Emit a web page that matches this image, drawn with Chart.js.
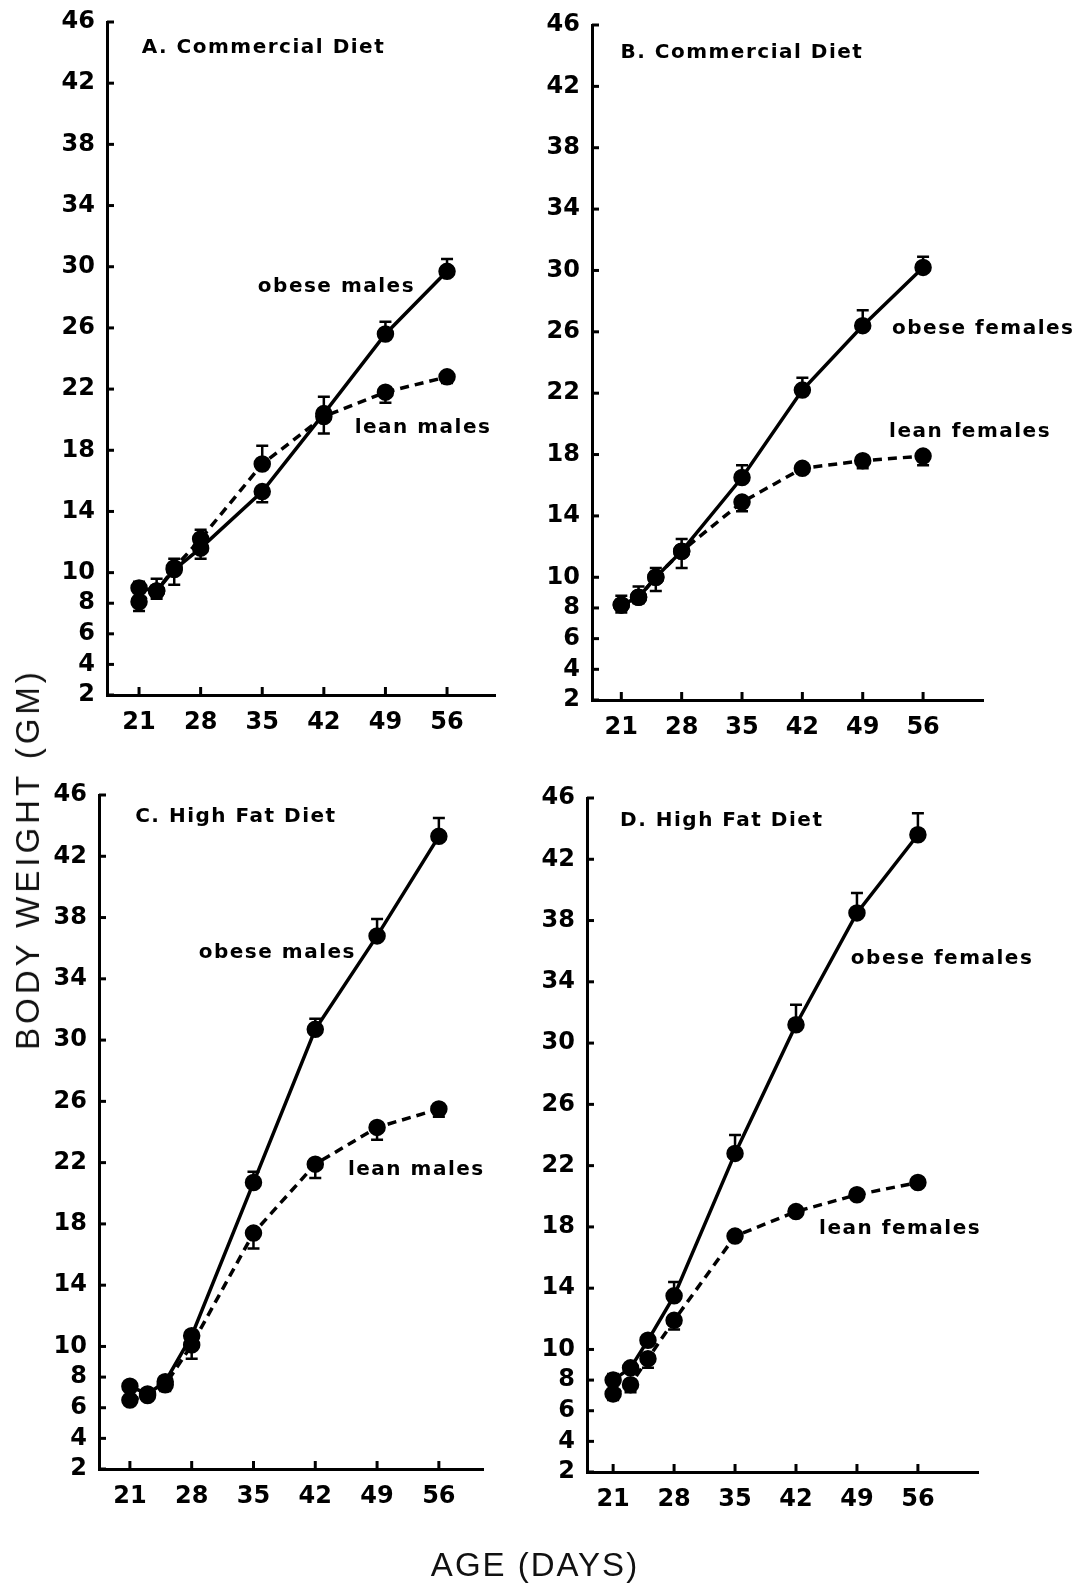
<!DOCTYPE html>
<html>
<head>
<meta charset="utf-8">
<script src="https://cdn.jsdelivr.net/npm/chart.js@4.4.0/dist/chart.umd.min.js"></script>
<style>
  body { margin: 0; background: #fff; width: 1072px; height: 1588px; position: relative; overflow: hidden; }
  canvas { position: absolute; }
  .lab { position: absolute; font-family: "Liberation Sans", Arial, sans-serif; color: #111; white-space: nowrap; }
  #ylab { left: 28px; top: 859px; transform: translate(-50%, -50%) rotate(-90deg); font-size: 33px; letter-spacing: 4px; }
  #xlab { left: 535px; top: 1565px; transform: translate(-50%, -50%); font-size: 33px; letter-spacing: 2px; }
</style>
</head>
<body>
<canvas id="cA" width="536" height="760" style="left:0;top:0"></canvas>
<canvas id="cB" width="536" height="760" style="left:536px;top:0"></canvas>
<canvas id="cC" width="536" height="790" style="left:0;top:770px"></canvas>
<canvas id="cD" width="536" height="790" style="left:536px;top:770px"></canvas>
<div class="lab" id="ylab">BODY WEIGHT (GM)</div>
<div class="lab" id="xlab">AGE (DAYS)</div>

<script>
// age in days
const days = [21, 23, 25, 28, 35, 42, 49, 56];
const xTicks = [21, 28, 35, 42, 49, 56];
const yTicks = [2, 4, 6, 8, 10, 14, 18, 22, 26, 30, 34, 38, 42, 46];

// A. commercial diet, males
const obeseA = [9.0, 8.8, 10.2, 11.6, 15.3, 20.4, 25.6, 29.7];
const obeseAPlus = [0.4, 0.8, 0.7, 0, 0, 1.1, 0.8, 0.8];
const obeseAMinus = [0, 0, 0, 0.7, 0.7, 0, 0, 0];
const leanA = [8.1, 8.8, 10.3, 12.2, 17.1, 20.2, 21.8, 22.8];
const leanAPlus = [0, 0, 0, 0.6, 1.2, 0, 0, 0];
const leanAMinus = [0.6, 0.5, 1.1, 0, 0, 1.1, 0.7, 0.4];

// B. commercial diet, females
const obeseB = [8.2, 8.7, 10.0, 11.7, 16.5, 22.2, 26.4, 30.2];
const obeseBPlus = [0.6, 0.7, 0.6, 0.8, 0.8, 0.8, 1.0, 0.7];
const obeseBMinus = [0, 0, 0, 0, 0, 0, 0, 0];
const leanB = [8.2, 8.7, 10.0, 11.7, 14.9, 17.1, 17.6, 17.9];
const leanBPlus = [0, 0, 0, 0, 0, 0, 0, 0];
const leanBMinus = [0.5, 0.4, 0.9, 1.1, 0.6, 0.3, 0.5, 0.6];

// C. high fat diet, males
const obeseC = [7.4, 6.9, 7.7, 10.7, 20.7, 30.7, 36.8, 43.3];
const obeseCPlus = [0.3, 0.2, 0.3, 0.3, 0.7, 0.7, 1.1, 1.2];
const obeseCMinus = [0, 0, 0, 0, 0, 0, 0, 0];
const leanC = [6.5, 6.8, 7.5, 10.1, 17.4, 21.9, 24.3, 25.5];
const leanCPlus = [0, 0, 0, 0, 0, 0, 0, 0];
const leanCMinus = [0.3, 0.2, 0.4, 0.9, 1.0, 0.9, 0.8, 0.5];

// D. high fat diet, females
const obeseD = [8.0, 8.8, 10.6, 13.5, 22.8, 31.2, 38.5, 43.6];
const obeseDPlus = [0.4, 0.3, 0.3, 0.9, 1.2, 1.3, 1.3, 1.4];
const obeseDMinus = [0, 0, 0, 0, 0, 0, 0, 0];
const leanD = [7.1, 7.7, 9.4, 11.9, 17.4, 19.0, 20.1, 20.9];
const leanDPlus = [0, 0, 0, 0, 0, 0, 0, 0];
const leanDMinus = [0.4, 0.5, 0.6, 0.6, 0.3, 0.2, 0.2, 0.1];

const FONT = '"DejaVu Sans", "Liberation Sans", sans-serif';

function toPoints(vals) {
  return days.map((d, i) => ({ x: d, y: vals[i] }));
}

// inward ticks, error bars and in-plot labels
function makeInk(texts) {
  return {
    id: 'ink',
    afterDatasetsDraw(chart) {
      const { ctx, scales: { x, y } } = chart;
      ctx.save();
      ctx.strokeStyle = '#000';
      ctx.lineWidth = 3;
      xTicks.forEach(v => {
        const px = x.getPixelForValue(v);
        ctx.beginPath(); ctx.moveTo(px, y.bottom); ctx.lineTo(px, y.bottom - 8); ctx.stroke();
      });
      yTicks.forEach(v => {
        const py = y.getPixelForValue(v);
        ctx.beginPath(); ctx.moveTo(x.left, py); ctx.lineTo(x.left + 7, py); ctx.stroke();
      });

      ctx.lineWidth = 2.5;
      chart.data.datasets.forEach(ds => {
        ds.data.forEach((p, i) => {
          const px = x.getPixelForValue(p.x);
          const py = y.getPixelForValue(p.y);
          [p.y + ds.errPlus[i], p.y - ds.errMinus[i]].forEach(end => {
            if (end === p.y) return;
            const pe = y.getPixelForValue(end);
            ctx.beginPath();
            ctx.moveTo(px, py); ctx.lineTo(px, pe);
            ctx.moveTo(px - 6, pe); ctx.lineTo(px + 6, pe);
            ctx.stroke();
          });
        });
      });

      ctx.fillStyle = '#000';
      ctx.font = 'bold 20px ' + FONT;
      ctx.letterSpacing = '1.5px';
      ctx.textAlign = 'left';
      ctx.textBaseline = 'middle';
      texts.forEach(t => ctx.fillText(t.text, x.getPixelForValue(t.x), y.getPixelForValue(t.y)));
      ctx.restore();
    }
  };
}

function makePanel(id, p) {
  const series = (vals, plus, minus, dash) => ({
    data: toPoints(vals),
    errPlus: plus,
    errMinus: minus,
    borderColor: '#000',
    borderWidth: 3.5,
    borderDash: dash,
    pointRadius: 7,
    pointBackgroundColor: '#000',
    pointBorderColor: '#000',
    tension: 0,
  });
  new Chart(document.getElementById(id), {
    type: 'line',
    data: {
      datasets: [
        series(p.obese, p.obesePlus, p.obeseMinus, []),
        series(p.lean, p.leanPlus, p.leanMinus, [9, 6]),
      ],
    },
    options: {
      responsive: false,
      animation: false,
      layout: { padding: p.pad },
      scales: {
        x: {
          type: 'linear',
          min: p.xMin,
          max: p.xMax,
          afterBuildTicks: s => { s.ticks = xTicks.map(v => ({ value: v })); },
          afterFit: s => { s.height = 45; },
          grid: { display: false },
          border: { display: true, color: '#000', width: 3 },
          ticks: { color: '#000', padding: 5, font: { family: FONT, size: 24, weight: 'bold' } },
        },
        y: {
          type: 'linear',
          min: 2,
          max: 46,
          afterBuildTicks: s => { s.ticks = yTicks.map(v => ({ value: v })); },
          afterFit: s => { s.width = p.yWidth; },
          grid: { display: false },
          border: { display: true, color: '#000', width: 3 },
          ticks: { color: '#000', padding: 4, font: { family: FONT, size: 24, weight: 'bold' } },
        },
      },
      plugins: {
        legend: { display: false },
        tooltip: { enabled: false },
      },
    },
    plugins: [makeInk(p.texts)],
  });
}

makePanel('cA', {
  obese: obeseA, obesePlus: obeseAPlus, obeseMinus: obeseAMinus,
  lean: leanA, leanPlus: leanAPlus, leanMinus: leanAMinus,
  xMin: 17.36, xMax: 61.45, yWidth: 107,
  pad: { left: 0, top: 22, right: 41, bottom: 20 },
  texts: [
    { text: 'A. Commercial Diet', x: 21.3, y: 44.3 },
    { text: 'obese males', x: 34.5, y: 28.7 },
    { text: 'lean males', x: 45.5, y: 19.5 },
  ],
});

makePanel('cB', {
  obese: obeseB, obesePlus: obeseBPlus, obeseMinus: obeseBMinus,
  lean: leanB, leanPlus: leanBPlus, leanMinus: leanBMinus,
  xMin: 17.6, xMax: 62.95, yWidth: 56,
  pad: { left: 0, top: 25, right: 89, bottom: 15 },
  texts: [
    { text: 'B. Commercial Diet', x: 20.9, y: 44.2 },
    { text: 'obese females', x: 52.4, y: 26.2 },
    { text: 'lean females', x: 52.05, y: 19.5 },
  ],
});

makePanel('cC', {
  obese: obeseC, obesePlus: obeseCPlus, obeseMinus: obeseCMinus,
  lean: leanC, leanPlus: leanCPlus, leanMinus: leanCMinus,
  xMin: 17.5, xMax: 61.0, yWidth: 99,
  pad: { left: 0, top: 25, right: 53, bottom: 46 },
  texts: [
    { text: 'C. High Fat Diet', x: 21.6, y: 44.6 },
    { text: 'obese males', x: 28.8, y: 35.7 },
    { text: 'lean males', x: 45.7, y: 21.5 },
  ],
});

makePanel('cD', {
  obese: obeseD, obesePlus: obeseDPlus, obeseMinus: obeseDMinus,
  lean: leanD, leanPlus: leanDPlus, leanMinus: leanDMinus,
  xMin: 18.0, xMax: 62.9, yWidth: 51,
  pad: { left: 0, top: 28, right: 94, bottom: 43 },
  texts: [
    { text: 'D. High Fat Diet', x: 21.8, y: 44.5 },
    { text: 'obese females', x: 48.3, y: 35.5 },
    { text: 'lean females', x: 44.65, y: 17.9 },
  ],
});
</script>
</body>
</html>
